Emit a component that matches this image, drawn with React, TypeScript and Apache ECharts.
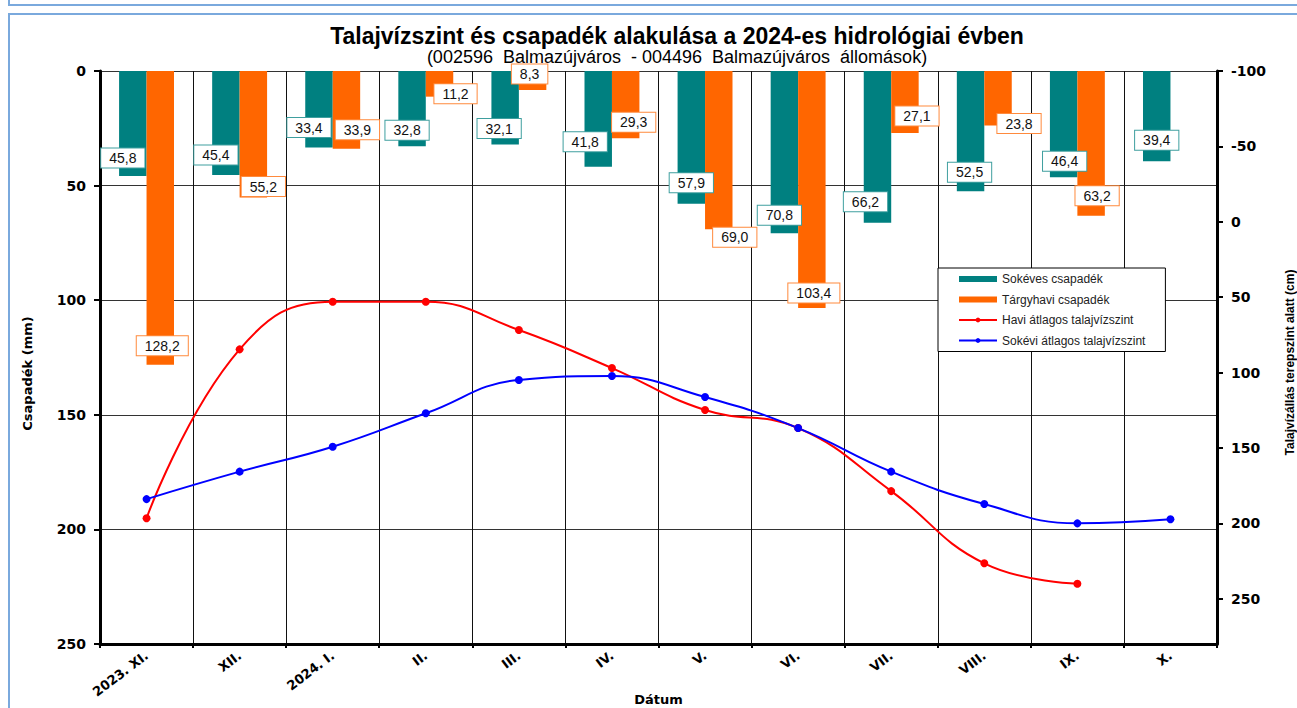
import React, { useEffect, useRef } from "react";
import * as echarts from "echarts";

const categories = ["2023. XI.", "XII.", "2024. I.", "II.", "III.", "IV.", "V.", "VI.", "VII.", "VIII.", "IX.", "X."];
const longTermPrecip = [45.8, 45.4, 33.4, 32.8, 32.1, 41.8, 57.9, 70.8, 66.2, 52.5, 46.4, 39.4];
const monthlyPrecip = [128.2, 55.2, 33.9, 11.2, 8.3, 29.3, 69.0, 103.4, 27.1, 23.8, 63.2, null];
const monthlyGroundwater = [196.6, 84.6, 53.0, 53.0, 71.8, 97.0, 124.8, 136.8, 178.6, 226.5, 240.0, null];
const longTermGroundwater = [183.9, 165.7, 149.2, 127.0, 104.9, 102.3, 116.2, 136.8, 165.7, 187.2, 200.0, 197.3];

// label placement styles (pixel nudges relative to the bar end)
const tealLabelDx = [-10, -10, -10, -5, -6, -13, 0, -5, -12, -1, 1, 0];
const tealLabelDy = [-18, -20, -20, -16, -16, -25, -21, -18, -21, -19, -16, -21];
const orangeLabelDx = [2, 10, 11, 16, -3, 8, 16, 2, 12, 21, 6, 0];
const orangeLabelDy = [-19, -11, -19, -3, -16, -16, 8, -15, -17, -2, -20, 0];

const FONT = "Arial, 'Liberation Sans', sans-serif";
const WIDE = "'DejaVu Sans', Verdana, sans-serif";
const TEAL = "#008080";
const ORANGE = "#ff6600";

const fmt = (v: number) => v.toFixed(1).replace(".", ",");

function barLabel(border: string) {
  return {
    show: true,
    position: ["50%", "100%"],
    align: "center",
    verticalAlign: "middle",
    formatter: (p: any) => fmt(p.value),
    fontFamily: FONT,
    fontSize: 14,
    color: "#111",
    backgroundColor: "#fff",
    borderColor: border,
    borderWidth: 1,
    padding: [3, 8, 2, 8],
  };
}

export default function App() {
  const ref = useRef<HTMLDivElement>(null);
  useEffect(() => {
    if (!ref.current) return;
    const chart = echarts.init(ref.current, undefined, { renderer: "svg" });
    const tealData = longTermPrecip.map((v, i) => ({
      value: v,
      label: { offset: [tealLabelDx[i], tealLabelDy[i]] },
    }));
    const orangeData = monthlyPrecip.map((v, i) =>
      v == null ? null : { value: v, label: { offset: [orangeLabelDx[i], orangeLabelDy[i]] } }
    );
    const tickLabel = { fontFamily: WIDE, fontWeight: "bold", fontSize: 14, color: "#000" };
    const option: any = {
      animation: false,
      backgroundColor: "#fff",
      textStyle: { fontFamily: FONT },
      title: {
        text: "Talajvízszint és csapadék alakulása a 2024-es hidrológiai évben",
        subtext: "(002596  Balmazújváros  - 004496  Balmazújváros  állomások)",
        left: 677,
        top: 24,
        textAlign: "center",
        itemGap: 1,
        padding: 0,
        textStyle: { fontFamily: FONT, fontSize: 23, fontWeight: "bold", color: "#000" },
        subtextStyle: { fontFamily: FONT, fontSize: 18, color: "#000" },
      },
      graphic: [
        { type: "rect", shape: { x: 9, y: -20, width: 1310, height: 25 }, style: { fill: "none", stroke: "#7aa9dd", lineWidth: 2 }, silent: true },
        { type: "rect", shape: { x: 9, y: 14, width: 1310, height: 720 }, style: { fill: "none", stroke: "#7aa9dd", lineWidth: 2 }, silent: true },
      ],
      legend: {
        orient: "vertical",
        left: 938,
        top: 268,
        padding: [4, 20, 4, 20],
        itemWidth: 38,
        itemHeight: 6,
        itemGap: 6.5,
        backgroundColor: "#fff",
        borderColor: "#000",
        borderWidth: 1,
        textStyle: { fontFamily: FONT, fontSize: 12, color: "#222", lineHeight: 14 },
        data: [
          { name: "Sokéves csapadék", icon: "rect" },
          { name: "Tárgyhavi csapadék", icon: "rect" },
          "Havi átlagos talajvízszint",
          "Sokévi átlagos talajvízszint",
        ],
      },
      grid: { left: 100, right: 80, top: 71, bottom: 64, containLabel: false, outerBoundsMode: "none" },
      xAxis: {
        type: "category",
        data: categories,
        boundaryGap: true,
        name: "Dátum",
        nameLocation: "middle",
        nameGap: 49,
        nameMoveOverlap: false,
        nameTextStyle: { fontFamily: WIDE, fontWeight: "bold", fontSize: 13, color: "#000" },
        axisLine: { onZero: false, lineStyle: { color: "#000", width: 3 } },
        axisTick: { show: true, interval: 0, length: 4, lineStyle: { color: "#000", width: 2 } },
        splitLine: { show: true, interval: 0, lineStyle: { color: "#111", width: 1 } },
        axisLabel: { interval: 0, rotate: 37, margin: 10, fontFamily: WIDE, fontWeight: "bold", fontSize: 13, color: "#000" },
      },
      yAxis: [
        {
          type: "value",
          inverse: true,
          min: 0,
          max: 250,
          interval: 50,
          name: "Csapadék (mm)",
          nameLocation: "middle",
          nameRotate: 90,
          nameGap: 66,
          nameMoveOverlap: false,
          nameTextStyle: { fontFamily: WIDE, fontWeight: "bold", fontSize: 13, color: "#000", padding: [0, 32, 0, 0] },
          axisLine: { show: true, lineStyle: { color: "#000", width: 3 } },
          axisTick: { show: true, length: 6, lineStyle: { color: "#000", width: 2 } },
          splitLine: { show: true, lineStyle: { color: "#333", width: 1 } },
          axisLabel: { margin: 14, ...tickLabel },
        },
        {
          type: "value",
          inverse: true,
          min: -100,
          max: 280,
          interval: 50,
          position: "right",
          name: "Talajvízállás terepszint alatt (cm)",
          nameLocation: "middle",
          nameRotate: 90,
          nameGap: 67,
          nameMoveOverlap: false,
          nameTextStyle: { fontFamily: FONT, fontWeight: "bold", fontSize: 12, color: "#000", padding: [0, 10, 0, 0] },
          axisLine: { show: true, lineStyle: { color: "#000", width: 3 } },
          axisTick: { show: true, length: 6, lineStyle: { color: "#000", width: 2 } },
          splitLine: { show: false },
          axisLabel: { margin: 14, showMaxLabel: false, ...tickLabel },
        },
      ],
      series: [
        {
          name: "Sokéves csapadék",
          type: "bar",
          yAxisIndex: 0,
          data: tealData,
          barGap: "0%",
          barCategoryGap: "41%",
          itemStyle: { color: TEAL },
          label: barLabel("#3f9f9f"),
          z: 2,
        },
        {
          name: "Tárgyhavi csapadék",
          type: "bar",
          yAxisIndex: 0,
          data: orangeData,
          barGap: "0%",
          barCategoryGap: "41%",
          itemStyle: { color: ORANGE },
          label: barLabel("#ff8a3d"),
          z: 2,
        },
        {
          name: "Havi átlagos talajvízszint",
          type: "line",
          yAxisIndex: 1,
          data: monthlyGroundwater,
          smooth: 0.45,
          symbol: "circle",
          symbolSize: 8,
          lineStyle: { color: "#ff0000", width: 2 },
          itemStyle: { color: "#ff0000" },
          z: 3,
        },
        {
          name: "Sokévi átlagos talajvízszint",
          type: "line",
          yAxisIndex: 1,
          data: longTermGroundwater,
          smooth: 0.45,
          symbol: "circle",
          symbolSize: 8,
          lineStyle: { color: "#0000ff", width: 2 },
          itemStyle: { color: "#0000ff" },
          z: 3,
        },
      ],
    };
    chart.setOption(option);
    return () => chart.dispose();
  }, []);
  return (
    <div
      ref={ref}
      style={{ position: "fixed", left: 0, top: 0, width: 1297, height: 708, background: "#fff" }}
    />
  );
}
